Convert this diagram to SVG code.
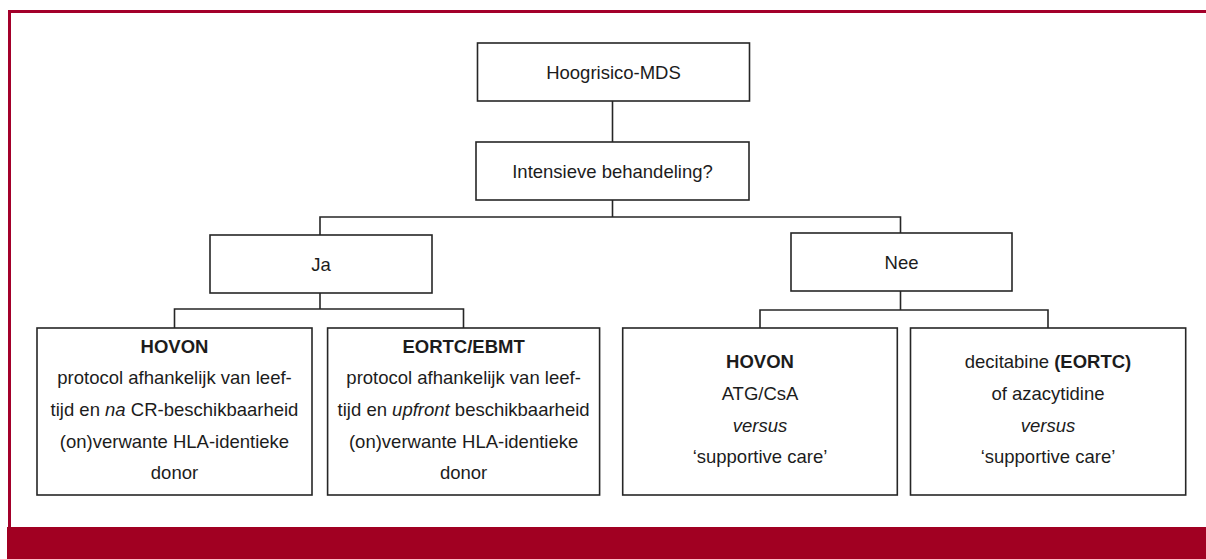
<svg xmlns="http://www.w3.org/2000/svg" width="1206" height="559" viewBox="0 0 1206 559">
<style>
.box{fill:#fff;stroke:#262626;stroke-width:1.6}
.c{fill:none;stroke:#262626;stroke-width:1.6}
.t{font-family:"Liberation Sans",Arial,sans-serif;font-size:18.5px;fill:#1c1c1c;text-anchor:middle}
.b{font-weight:bold}
.i{font-style:italic}
.frame{fill:none;stroke:#a3002a;stroke-width:3}
</style>
<rect x="0" y="0" width="1206" height="559" fill="#fff"/>
<g id="frame">
<path class="frame" d="M9.5,527 V11.5 H1206"/>
<rect x="7" y="527" width="1199" height="32" fill="#a10022"/>
</g>
<g id="connectors">
<path class="c" d="M612.5,101 V142"/>
<path class="c" d="M612.5,200 V217"/>
<path class="c" d="M320,235 V217 H900.5 V233"/>
<path class="c" d="M320,293 V309"/>
<path class="c" d="M174.5,328 V309 H463.5 V328"/>
<path class="c" d="M900.5,291 V310"/>
<path class="c" d="M760,328 V310 H1048 V328"/>
</g>
<g id="n-hoogrisico">
<rect class="box" x="477.5" y="43" width="272" height="58"/>
<text class="t" x="613.5" y="78.5">Hoogrisico-MDS</text>
</g>
<g id="n-intensieve">
<rect class="box" x="476" y="142" width="273" height="58"/>
<text class="t" x="612.5" y="177.5">Intensieve behandeling?</text>
</g>
<g id="n-ja">
<rect class="box" x="210" y="235" width="222" height="58"/>
<text class="t" x="321" y="270.5">Ja</text>
</g>
<g id="n-nee">
<rect class="box" x="791" y="233" width="221" height="58"/>
<text class="t" x="901.5" y="268.5">Nee</text>
</g>
<g id="n-hovon-ja">
<rect class="box" x="37" y="328" width="275" height="167"/>
<text class="t b" x="174.5" y="352.7">HOVON</text>
<text class="t" x="174.5" y="384.4">protocol afhankelijk van leef-</text>
<text class="t" x="174.5" y="416">tijd en <tspan class="i">na</tspan> CR-beschikbaarheid</text>
<text class="t" x="174.5" y="447.7">(on)verwante HLA-identieke</text>
<text class="t" x="174.5" y="479.4">donor</text>
</g>
<g id="n-eortc-ebmt">
<rect class="box" x="327.6" y="328" width="272" height="167"/>
<text class="t b" x="463.6" y="352.7">EORTC/EBMT</text>
<text class="t" x="463.6" y="384.4">protocol afhankelijk van leef-</text>
<text class="t" x="463.6" y="416">tijd en <tspan class="i">upfront</tspan> beschikbaarheid</text>
<text class="t" x="463.6" y="447.7">(on)verwante HLA-identieke</text>
<text class="t" x="463.6" y="479.4">donor</text>
</g>
<g id="n-hovon-nee">
<rect class="box" x="622.7" y="328" width="274.6" height="167"/>
<text class="t b" x="760" y="368.3">HOVON</text>
<text class="t" x="760" y="400">ATG/CsA</text>
<text class="t i" x="760" y="431.7">versus</text>
<text class="t" x="760" y="463.4">‘supportive care’</text>
</g>
<g id="n-decitabine">
<rect class="box" x="910.5" y="328" width="275.2" height="167"/>
<text class="t" x="1048" y="368.3">decitabine <tspan class="b">(EORTC)</tspan></text>
<text class="t" x="1048" y="400">of azacytidine</text>
<text class="t i" x="1048" y="431.7">versus</text>
<text class="t" x="1048" y="463.4">‘supportive care’</text>
</g>
</svg>
